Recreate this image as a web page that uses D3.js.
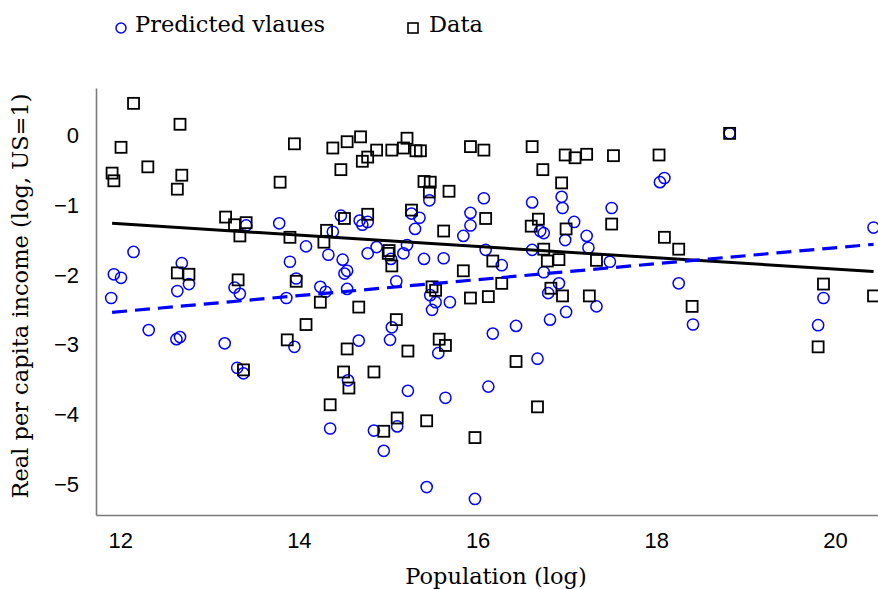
<!DOCTYPE html>
<html>
<head>
<meta charset="utf-8">
<script src="https://cdn.jsdelivr.net/npm/d3@7"></script>
<style>
  html, body { margin: 0; padding: 0; background: #fff; }
  svg { display: block; }
</style>
</head>
<body>
<svg id="chart" width="878" height="589"></svg>
<script>
// ---- Data ----
const dataX = [12.15,12.67,12.01,12.31,11.91,11.93,12.69,12.64,13.95,14.38,14.54,14.47,13.79,13.18,13.28,13.41,13.34,13.90,14.31,14.28,
  14.51,12.64,12.77,13.32,13.97,14.24,14.69,15.21,14.87,15.04,15.17,15.31,15.36,14.71,14.77,15.92,16.07,16.61,16.98,17.09,
  17.22,16.73,15.40,15.47,15.46,15.68,16.94,14.77,15.26,15.62,16.09,16.68,16.60,16.99,15.01,15.00,15.04,16.74,16.78,16.91,
  17.33,15.84,16.17,16.27,15.49,15.53,15.92,16.12,16.82,16.95,17.25,14.67,17.52,18.03,18.82,17.50,18.09,18.25,19.87,20.43,
  18.40,13.38,13.87,14.08,14.54,14.50,14.56,14.35,15.09,15.22,15.57,15.64,16.43,14.84,15.10,14.95,15.43,15.97,16.67,19.81];
const dataY = [0.43,0.13,-0.20,-0.48,-0.57,-0.68,-0.60,-0.80,-0.15,-0.21,-0.12,-0.52,-0.70,-1.20,-1.31,-1.28,-1.47,-1.49,-1.39,-1.56,
  -1.22,-2.00,-2.02,-2.10,-2.12,-2.42,-0.05,-0.07,-0.24,-0.24,-0.21,-0.25,-0.25,-0.40,-0.34,-0.19,-0.24,-0.19,-0.31,-0.35,
  -0.30,-0.52,-0.69,-0.70,-0.84,-0.83,-0.71,-1.16,-1.10,-1.40,-1.22,-1.23,-1.33,-1.37,-1.68,-1.72,-1.90,-1.66,-1.83,-1.81,
  -1.82,-1.97,-1.83,-2.15,-2.20,-2.25,-2.36,-2.34,-2.22,-2.33,-2.33,-2.49,-0.32,-0.31,0.00,-1.30,-1.49,-1.66,-2.16,-2.33,
  -2.48,-3.39,-2.96,-2.74,-3.09,-3.42,-3.65,-3.89,-2.67,-3.12,-2.95,-3.04,-3.27,-3.42,-4.08,-4.27,-4.12,-4.36,-3.92,-3.06];

const predX = [12.15,12.69,11.93,12.01,12.77,12.64,11.90,13.28,13.34,13.41,13.78,14.08,13.90,13.97,13.86,14.33,14.49,14.51,14.54,14.38,
  14.47,14.24,14.30,14.54,15.46,16.07,16.61,16.94,16.95,14.68,14.71,14.77,15.26,15.35,15.30,15.92,15.92,15.84,16.70,16.74,
  17.08,16.98,17.22,17.24,17.50,14.87,14.77,15.21,15.17,15.03,15.40,15.62,16.09,16.27,16.61,15.09,16.74,16.91,16.79,15.47,
  15.53,15.69,17.48,17.33,18.82,18.04,18.09,18.25,20.43,19.87,12.32,12.63,12.67,13.17,13.31,13.38,13.95,14.35,14.55,14.67,
  15.49,15.04,15.02,15.56,16.17,16.43,16.81,16.99,16.67,15.22,15.64,16.12,14.84,15.10,14.95,15.43,15.97,18.41,19.81];
const predY = [-1.70,-1.86,-2.02,-2.07,-2.16,-2.26,-2.36,-2.21,-2.30,-1.32,-1.29,-1.62,-1.84,-2.08,-2.36,-1.74,-1.81,-2.01,-1.97,-1.41,
  -1.18,-2.20,-2.27,-2.23,-0.96,-0.93,-0.99,-0.91,-1.07,-1.25,-1.31,-1.27,-1.15,-1.21,-1.37,-1.14,-1.32,-1.47,-1.40,-1.43,
  -1.27,-1.53,-1.47,-1.64,-1.07,-1.63,-1.72,-1.60,-1.72,-1.80,-1.80,-1.79,-1.67,-1.89,-1.67,-2.12,-1.99,-2.15,-2.29,-2.32,
  -2.42,-2.42,-1.84,-2.48,0.00,-0.70,-0.64,-2.15,-1.35,-2.36,-2.82,-2.95,-2.92,-3.01,-3.36,-3.44,-3.06,-4.23,-3.54,-2.97,
  -2.53,-2.78,-2.96,-3.15,-2.87,-2.76,-2.67,-2.56,-3.23,-3.69,-3.79,-3.63,-4.26,-4.20,-4.55,-5.07,-5.24,-2.74,-2.75];

// fitted lines (endpoints)
const fitX = [11.91, 20.43];
const fitDataY = [-1.29, -1.98];
const fitPredY = [-2.565, -1.59];

const xTicks = [12, 14, 16, 18, 20];
const yTicks = [0, -1, -2, -3, -4, -5];

const legendLabels = ["Predicted vlaues", "Data"];
const xTitle = "Population (log)";
const yTitle = "Real per capita income (log, US=1)";

// ---- Chart ----
const svg = d3.select("#chart");
const plotL = 96, plotR = 878, plotT = 88, plotB = 515;
const x = d3.scaleLinear().domain([11.73, 20.48]).range([plotL, plotR]);
const y = d3.scaleLinear().domain([-5.47, 0.65]).range([plotB, plotT]);

const serif = "'DejaVu Serif', serif";
const sans = "'Liberation Sans', Arial, sans-serif";
const blue = "#0000ff";

// axes lines
const xAxis = d3.axisBottom(x).tickValues(xTicks).tickSize(0).tickPadding(17).tickFormat(d3.format("d"));
const gx = svg.append("g").attr("transform", `translate(0,${plotB})`).call(xAxis);
gx.select(".domain").attr("stroke", "#7a7a7a").attr("stroke-width", 1.6);
gx.selectAll("text").attr("font-family", sans).attr("font-size", 22).attr("fill", "#000");

const yAxis = d3.axisLeft(y).tickValues(yTicks).tickSize(0).tickPadding(17)
  .tickFormat(d => d < 0 ? "\u2212" + Math.abs(d) : String(d));
const gy = svg.append("g").attr("transform", `translate(${plotL},0)`).call(yAxis);
gy.select(".domain").attr("stroke", "#7a7a7a").attr("stroke-width", 1.6);
gy.selectAll("text").attr("font-family", sans).attr("font-size", 22).attr("fill", "#000").attr("dy", "0.42em");

// circles (predicted)
const pred = predX.map((v, i) => [v, predY[i]]);
svg.append("g").selectAll("circle").data(pred).join("circle")
  .attr("cx", d => x(d[0])).attr("cy", d => y(d[1])).attr("r", 5.6)
  .attr("fill", "none").attr("stroke", blue).attr("stroke-width", 1.5);

// squares (data)
const sq = 11;
const dat = dataX.map((v, i) => [v, dataY[i]]);
svg.append("g").selectAll("rect").data(dat).join("rect")
  .attr("x", d => x(d[0]) - sq / 2).attr("y", d => y(d[1]) - sq / 2)
  .attr("width", sq).attr("height", sq)
  .attr("fill", "none").attr("stroke", "#000").attr("stroke-width", 1.8);

// fit lines
const line = d3.line().x(d => x(d[0])).y(d => y(d[1]));
svg.append("path").datum(fitX.map((v, i) => [v, fitDataY[i]])).attr("d", line)
  .attr("fill", "none").attr("stroke", "#000").attr("stroke-width", 3);
svg.append("path").datum(fitX.map((v, i) => [v, fitPredY[i]])).attr("d", line)
  .attr("fill", "none").attr("stroke", blue).attr("stroke-width", 3.2).attr("stroke-dasharray", "15,8");

// axis titles
svg.append("text").attr("x", 496).attr("y", 584).attr("text-anchor", "middle")
  .attr("font-family", serif).attr("font-size", 22.5).text(xTitle);
svg.append("text").attr("transform", "translate(28,296) rotate(-90)").attr("text-anchor", "middle")
  .attr("font-family", serif).attr("font-size", 22.5).text(yTitle);

// legend
const lg = svg.append("g");
lg.append("circle").attr("cx", 121).attr("cy", 28).attr("r", 5).attr("fill", "none").attr("stroke", blue).attr("stroke-width", 1.5);
lg.append("text").attr("x", 135).attr("y", 32).attr("font-family", serif).attr("font-size", 22.5).text(legendLabels[0]);
lg.append("rect").attr("x", 408).attr("y", 23).attr("width", 10).attr("height", 10).attr("fill", "none").attr("stroke", "#000").attr("stroke-width", 1.6);
lg.append("text").attr("x", 429).attr("y", 32).attr("font-family", serif).attr("font-size", 22.5).text(legendLabels[1]);
</script>
</body>
</html>
